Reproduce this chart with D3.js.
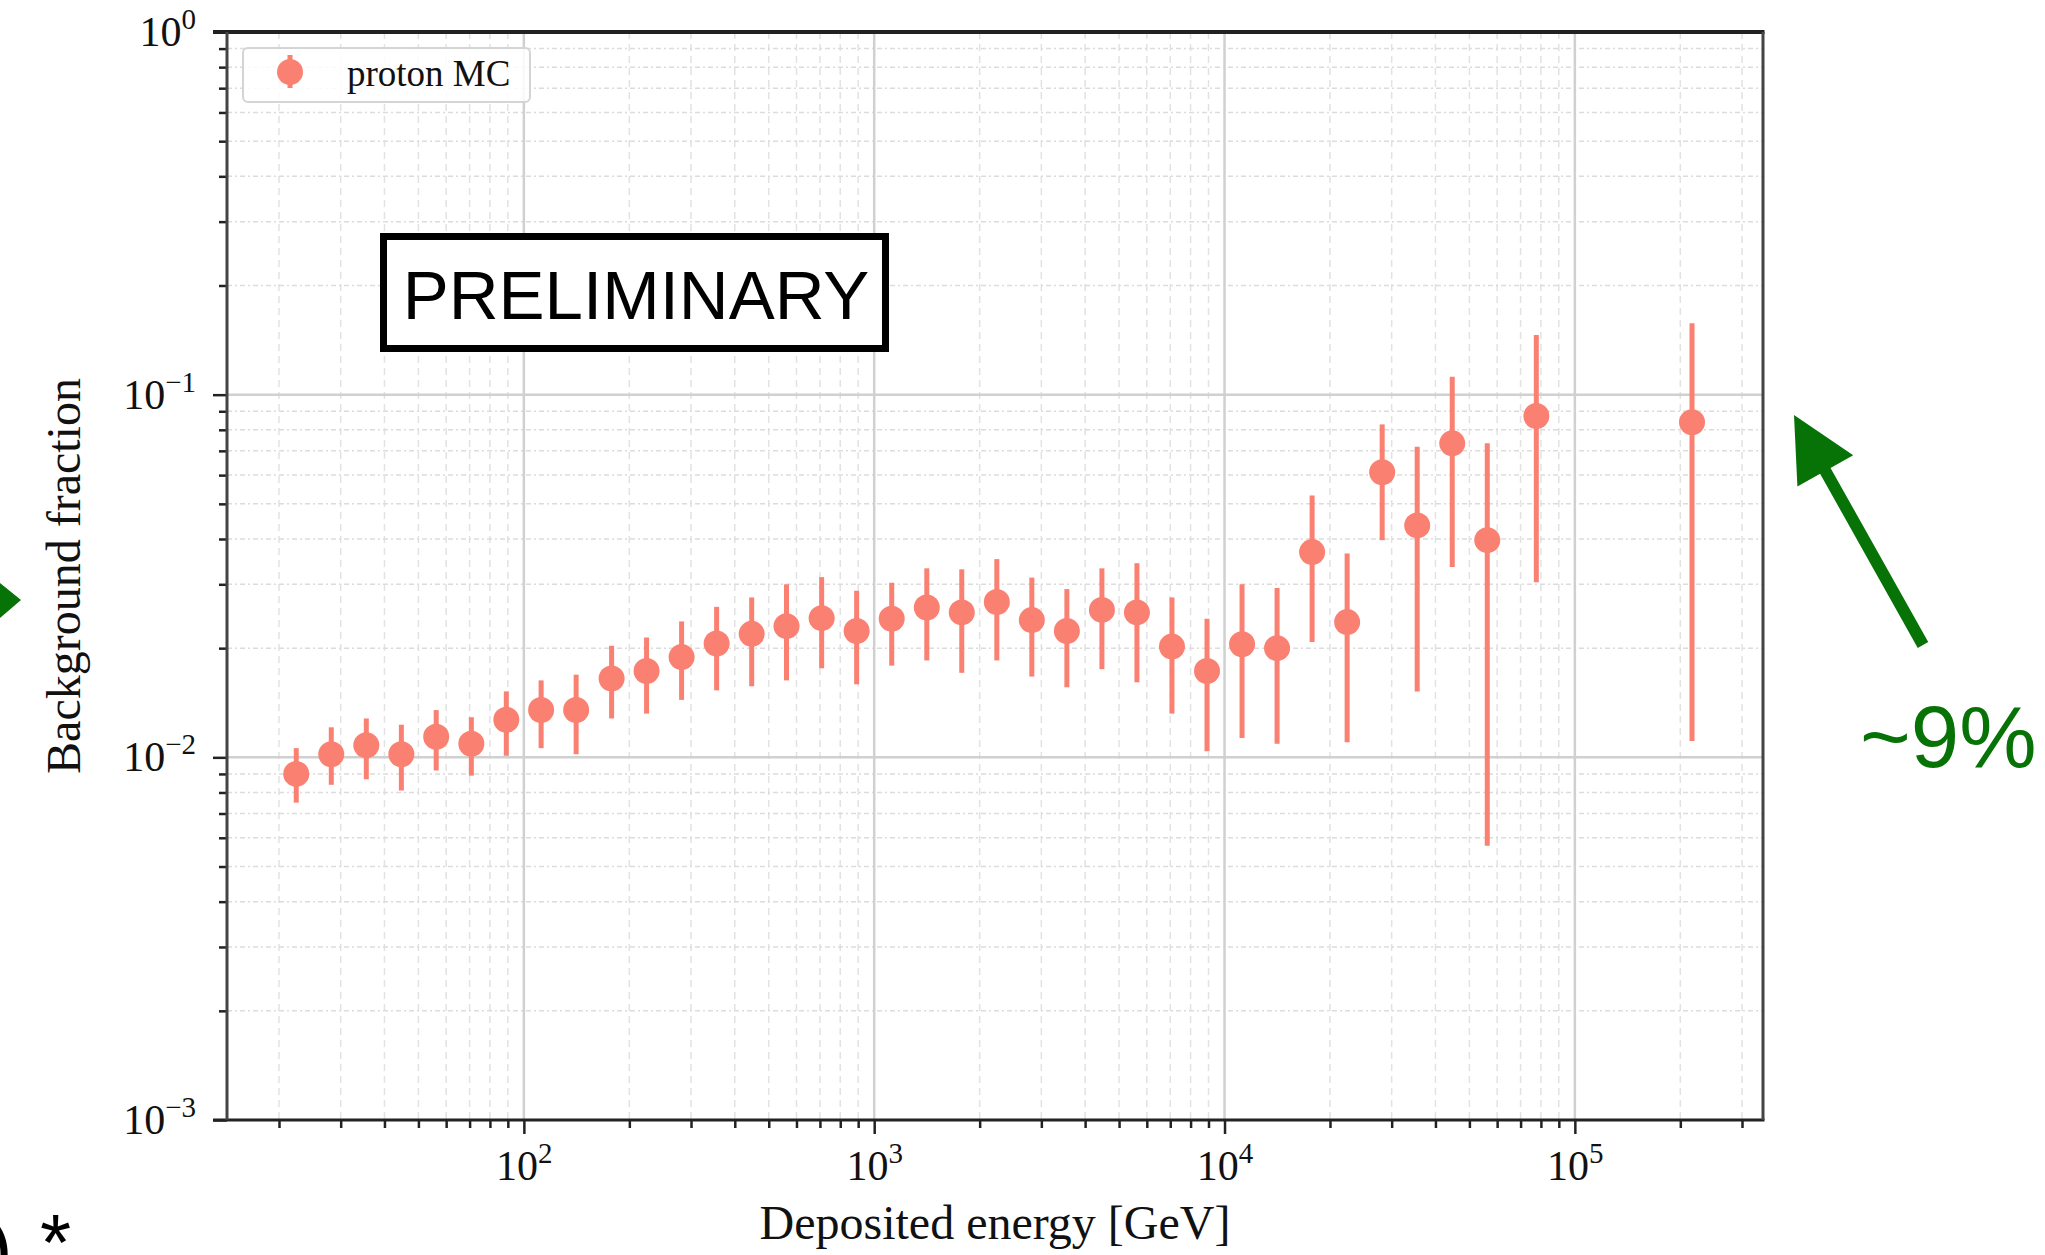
<!DOCTYPE html>
<meta charset="utf-8">
<title>Background fraction</title>
<style>
  body { margin: 0; background: white; }
  svg { display: block; }
</style>
<body>
<div id="chart"></div>

<script src="https://d3js.org/d3.v7.min.js"></script>
<script>

// bin centres [GeV] and background fraction with error band
const energy = [22.4, 28.2, 35.5, 44.7, 56.2, 70.8, 89.1, 112, 141, 178,
                224, 282, 355, 447, 562, 708, 891, 1122, 1413, 1778,
                2239, 2818, 3548, 4467, 5623, 7079, 8913, 11220, 14125, 17783,
                22387, 28184, 35481, 44668, 56234, 77625, 216000];
const fraction = [0.0090, 0.0102, 0.0108, 0.0102, 0.0114, 0.0109, 0.0127, 0.0135, 0.0135, 0.0165,
                  0.0173, 0.0189, 0.0206, 0.0219, 0.0230, 0.0242, 0.0223, 0.0241, 0.0259, 0.0251,
                  0.0268, 0.0239, 0.0223, 0.0255, 0.0251, 0.0202, 0.0173, 0.0205, 0.0200, 0.0368,
                  0.0236, 0.0611, 0.0436, 0.0734, 0.0397, 0.0873, 0.0839];
const fracLow = [0.0075, 0.0084, 0.0087, 0.0081, 0.0092, 0.0089, 0.0101, 0.0106, 0.0102, 0.0128,
                 0.0132, 0.0144, 0.0153, 0.0157, 0.0163, 0.0176, 0.0159, 0.0179, 0.0185, 0.0171,
                 0.0185, 0.0167, 0.0156, 0.0175, 0.0161, 0.0132, 0.0104, 0.0113, 0.0109, 0.0208,
                 0.0110, 0.0397, 0.0152, 0.0335, 0.0057, 0.0304, 0.0111];
const fracHigh = [0.0106, 0.0121, 0.0128, 0.0123, 0.0135, 0.0129, 0.0152, 0.0163, 0.0169, 0.0203,
                  0.0214, 0.0237, 0.0260, 0.0276, 0.0300, 0.0314, 0.0288, 0.0303, 0.0332, 0.0330,
                  0.0352, 0.0313, 0.0291, 0.0332, 0.0343, 0.0276, 0.0241, 0.0300, 0.0293, 0.0527,
                  0.0365, 0.0828, 0.0719, 0.1121, 0.0734, 0.1461, 0.1573];

const xMajor = [1e2, 1e3, 1e4, 1e5];
const yMajor = [1e-3, 1e-2, 1e-1, 1];
const seriesName = "proton MC";

const W = 2045, H = 1255;
const plotL = 227, plotR = 1763, plotT = 32, plotB = 1120;
const salmon = "#fa8072";
const green = "#077307";

const svg = d3.select("#chart").append("svg")
  .attr("width", W).attr("height", H)
  .style("font-family", "'Liberation Serif', serif");

svg.append("rect").attr("width", W).attr("height", H).attr("fill", "white");

const x = d3.scaleLog().domain([14.21, 344400]).range([plotL, plotR]);
const y = d3.scaleLog().domain([1e-3, 1]).range([plotB, plotT]);

// minor tick values 2..9 x 10^k inside the domain
function minors(scale) {
  const [a, b] = scale.domain();
  const out = [];
  for (let k = Math.floor(Math.log10(a)); k <= Math.ceil(Math.log10(b)); k++) {
    for (let m = 2; m <= 9; m++) {
      const v = m * Math.pow(10, k);
      if (v >= a && v <= b) out.push(v);
    }
  }
  return out;
}
const xMinor = minors(x), yMinor = minors(y);

// grid
const grid = svg.append("g");
grid.selectAll(".xmin").data(xMinor).join("line")
  .attr("x1", d => x(d)).attr("x2", d => x(d)).attr("y1", plotT).attr("y2", plotB)
  .attr("stroke", "#e2e2e2").attr("stroke-width", 1.5).attr("stroke-dasharray", "7,5");
grid.selectAll(".ymin").data(yMinor).join("line")
  .attr("y1", d => y(d)).attr("y2", d => y(d)).attr("x1", plotL).attr("x2", plotR)
  .attr("stroke", "#dcdcdc").attr("stroke-width", 1.5).attr("stroke-dasharray", "5,3,2,3");
grid.selectAll(".xmaj").data(xMajor).join("line")
  .attr("x1", d => x(d)).attr("x2", d => x(d)).attr("y1", plotT).attr("y2", plotB)
  .attr("stroke", "#d0d0d0").attr("stroke-width", 2.5);
grid.selectAll(".ymaj").data(yMajor.slice(1, 3)).join("line")
  .attr("y1", d => y(d)).attr("y2", d => y(d)).attr("x1", plotL).attr("x2", plotR)
  .attr("stroke", "#d0d0d0").attr("stroke-width", 2.5);

// power-of-ten labels
function powLabel(sel) {
  sel.each(function(d) {
    const e = Math.round(Math.log10(d));
    const t = d3.select(this).text(null);
    t.append("tspan").text("10");
    t.append("tspan").attr("dy", -17).attr("font-size", 29)
      .text(e < 0 ? "\u2212" + (-e) : e);
  });
}

// axes: minor ticks unlabeled, major ticks with 10^k labels
const xAxis = svg.append("g").attr("transform", `translate(0,${plotB})`);
const xMinG = xAxis.append("g").call(d3.axisBottom(x).tickValues(xMinor).tickSize(8).tickFormat(""));
xMinG.selectAll(".tick text").remove();
const xMajG = xAxis.append("g").call(d3.axisBottom(x).tickValues(xMajor).tickSize(14).tickPadding(16));
xAxis.selectAll(".tick line").attr("stroke", "#222").attr("stroke-width", 2.5);
xAxis.selectAll(".domain").remove();
xMajG.selectAll(".tick text").attr("font-size", 42).attr("fill", "#111")
  .attr("font-family", "'Liberation Serif', serif").call(powLabel);

const yAxis = svg.append("g").attr("transform", `translate(${plotL},0)`);
const yMinG = yAxis.append("g").call(d3.axisLeft(y).tickValues(yMinor).tickSize(8).tickFormat(""));
yMinG.selectAll(".tick text").remove();
const yMajG = yAxis.append("g").call(d3.axisLeft(y).tickValues(yMajor).tickSize(14).tickPadding(17));
yAxis.selectAll(".tick line").attr("stroke", "#222").attr("stroke-width", 2.5);
yAxis.selectAll(".domain").remove();
yMajG.selectAll(".tick text").attr("font-size", 42).attr("fill", "#111")
  .attr("font-family", "'Liberation Serif', serif").call(powLabel);

// spines
svg.append("line").attr("x1", plotL - 14).attr("x2", plotR + 1.5).attr("y1", plotT).attr("y2", plotT)
  .attr("stroke", "#222").attr("stroke-width", 4);
svg.append("line").attr("x1", plotL - 14).attr("x2", plotR + 1.5).attr("y1", plotB).attr("y2", plotB)
  .attr("stroke", "#222").attr("stroke-width", 3);
svg.append("line").attr("x1", plotL).attr("x2", plotL).attr("y1", plotT).attr("y2", plotB)
  .attr("stroke", "#444").attr("stroke-width", 3);
svg.append("line").attr("x1", plotR).attr("x2", plotR).attr("y1", plotT).attr("y2", plotB)
  .attr("stroke", "#444").attr("stroke-width", 3);

// axis titles
svg.append("text").attr("x", (plotL + plotR) / 2).attr("y", 1239)
  .attr("text-anchor", "middle").attr("font-size", 48).attr("fill", "#111")
  .text("Deposited energy [GeV]");
svg.append("text").attr("transform", `translate(80,${(plotT + plotB) / 2}) rotate(-90)`)
  .attr("text-anchor", "middle").attr("font-size", 48).attr("fill", "#111")
  .text("Background fraction");

// error bars and markers
const pts = energy.map((e, i) => ({e, f: fraction[i], lo: fracLow[i], hi: fracHigh[i]}));
const marks = svg.append("g");
marks.selectAll(".err").data(pts).join("line")
  .attr("x1", d => x(d.e)).attr("x2", d => x(d.e))
  .attr("y1", d => y(d.lo)).attr("y2", d => y(d.hi))
  .attr("stroke", salmon).attr("stroke-width", 5);
marks.selectAll(".dot").data(pts).join("circle")
  .attr("cx", d => x(d.e)).attr("cy", d => y(d.f)).attr("r", 13)
  .attr("fill", salmon);

// legend
const leg = svg.append("g");
leg.append("rect").attr("x", 243).attr("y", 48).attr("width", 287).attr("height", 54).attr("rx", 5)
  .attr("fill", "white").attr("fill-opacity", 0.85).attr("stroke", "#d4d4d4").attr("stroke-width", 2);
leg.append("line").attr("x1", 290).attr("x2", 290).attr("y1", 55).attr("y2", 88)
  .attr("stroke", salmon).attr("stroke-width", 5);
leg.append("circle").attr("cx", 290).attr("cy", 72).attr("r", 13).attr("fill", salmon);
leg.append("text").attr("x", 347).attr("y", 86).attr("font-size", 37).attr("fill", "#111")
  .text(seriesName);

// PRELIMINARY stamp
svg.append("rect").attr("x", 383.5).attr("y", 236.5).attr("width", 502).attr("height", 112)
  .attr("fill", "white").attr("stroke", "black").attr("stroke-width", 7);
svg.append("text").attr("x", 636).attr("y", 319).attr("text-anchor", "middle")
  .attr("font-family", "'Liberation Sans', Arial, sans-serif").attr("font-size", 69)
  .attr("fill", "black").text("PRELIMINARY");

// green annotation arrow + label
const tail = [1923, 645], tip = [1794, 415];
const dx = tip[0] - tail[0], dy = tip[1] - tail[1], len = Math.hypot(dx, dy);
const ux = dx / len, uy = dy / len, px = -uy, py = ux;
const headLen = 64, headHalf = 32, shaftHalf = 6;
const bx = tip[0] - ux * headLen, by = tip[1] - uy * headLen;
svg.append("polygon").attr("fill", green).attr("points", [
  [tail[0] + px * shaftHalf, tail[1] + py * shaftHalf],
  [bx + px * shaftHalf, by + py * shaftHalf],
  [bx + px * headHalf, by + py * headHalf],
  tip,
  [bx - px * headHalf, by - py * headHalf],
  [bx - px * shaftHalf, by - py * shaftHalf],
  [tail[0] - px * shaftHalf, tail[1] - py * shaftHalf]
].map(p => p.join(",")).join(" "));
svg.append("text").attr("x", 1860).attr("y", 767)
  .attr("font-family", "'Liberation Sans', Arial, sans-serif").attr("font-size", 87)
  .attr("fill", green).text("~9%");

// clipped leftovers of the slide at the left edge
svg.append("polygon").attr("fill", green).attr("points", "0,583 21,600 0,618");
svg.append("text").attr("x", -14).attr("y", 1276)
  .attr("font-family", "'Liberation Sans', Arial, sans-serif").attr("font-size", 80)
  .attr("fill", "black").text(")");
svg.append("text").attr("x", 40).attr("y", 1270)
  .attr("font-family", "'Liberation Sans', Arial, sans-serif").attr("font-size", 80)
  .attr("fill", "black").text("*");

</script>
</body>
